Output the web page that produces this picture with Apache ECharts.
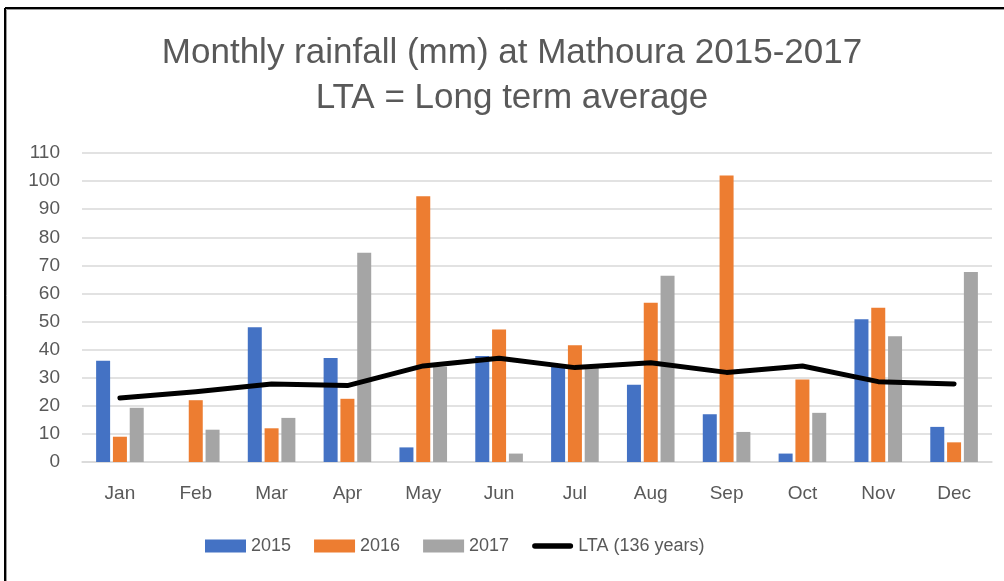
<!DOCTYPE html>
<html>
<head>
<meta charset="utf-8">
<script src="https://cdn.jsdelivr.net/npm/echarts@6/dist/echarts.min.js"></script>
<style>
html,body{margin:0;padding:0;background:#fff;}
#chart{width:1004px;height:581px;}
</style>
</head>
<body>
<div id="chart"></div>
<script>
const months = ['Jan','Feb','Mar','Apr','May','Jun','Jul','Aug','Sep','Oct','Nov','Dec'];
const rain2015 = [36, 0, 48, 37, 5.2, 37.7, 34, 27.5, 17, 3, 50.8, 12.5];
const rain2016 = [9, 22, 12, 22.5, 94.6, 47.2, 41.6, 56.7, 102, 29.4, 54.9, 7];
const rain2017 = [19.3, 11.5, 15.7, 74.5, 33.9, 3, 34, 66.3, 10.7, 17.5, 44.8, 67.6];
const lta = [22.8, 25, 27.8, 27.2, 34.2, 36.9, 33.6, 35.3, 31.9, 34.2, 28.6, 27.8];
const yTicks = [0, 110, 10];
const seriesNames = ['2015', '2016', '2017', 'LTA (136 years)'];
const titleLines = ['Monthly rainfall (mm) at Mathoura 2015-2017', 'LTA = Long term average'];

const FONT = 'Liberation Sans';
const TXT = '#595959';
const chart = echarts.init(document.getElementById('chart'), null, {renderer: 'canvas'});

const barCommon = {type: 'bar', barWidth: 14, barGap: '20%'};
chart.setOption({
  animation: false,
  backgroundColor: '#ffffff',
  legend: {
    left: 205,
    top: 537,
    padding: 0,
    itemWidth: 41,
    itemHeight: 13,
    itemGap: 23,
    textStyle: {fontFamily: FONT, fontSize: 18, color: TXT},
    data: [
      {name: seriesNames[0], icon: 'rect'},
      {name: seriesNames[1], icon: 'rect'},
      {name: seriesNames[2], icon: 'rect'},
      {name: seriesNames[3], icon: 'path://M3,0 L41,0 A3,3 0 0 1 41,6 L3,6 A3,3 0 0 1 3,0 Z', itemStyle: {color: '#000'}}
    ]
  },
  grid: {left: 82, right: 12, top: 153, bottom: 119, containLabel: false},
  xAxis: {
    type: 'category',
    data: months,
    axisLine: {lineStyle: {color: '#D9D9D9', width: 1.5}},
    axisTick: {show: false},
    axisLabel: {fontFamily: FONT, fontSize: 19, color: TXT, margin: 22}
  },
  yAxis: {
    type: 'value',
    min: yTicks[0],
    max: yTicks[1],
    interval: yTicks[2],
    axisLine: {show: false},
    axisTick: {show: false},
    splitLine: {lineStyle: {color: '#D9D9D9', width: 1.5}},
    axisLabel: {fontFamily: FONT, fontSize: 19, color: TXT, margin: 22}
  },
  series: [
    Object.assign({name: seriesNames[0], data: rain2015, itemStyle: {color: '#4472C4'}}, barCommon),
    Object.assign({name: seriesNames[1], data: rain2016, itemStyle: {color: '#ED7D31'}}, barCommon),
    Object.assign({name: seriesNames[2], data: rain2017, itemStyle: {color: '#A5A5A5'}}, barCommon),
    {
      name: seriesNames[3], type: 'line', data: lta, symbol: 'none', smooth: false,
      itemStyle: {color: '#000'},
      lineStyle: {color: '#000', width: 5, cap: 'round', join: 'round'},
      z: 5
    }
  ],
  graphic: [
    {type: 'text', x: 512, y: 53, style: {text: titleLines[0], font: '35px "Liberation Sans"', fill: TXT, textAlign: 'center', textVerticalAlign: 'middle'}},
    {type: 'text', x: 512, y: 98, style: {text: titleLines[1], font: '35px "Liberation Sans"', fill: TXT, textAlign: 'center', textVerticalAlign: 'middle'}},
    {type: 'line', shape: {x1: 5, y1: 8, x2: 1004, y2: 8}, style: {stroke: '#000', lineWidth: 2}},
    {type: 'line', shape: {x1: 5, y1: 8, x2: 5, y2: 581}, style: {stroke: '#000', lineWidth: 2}},
    {type: 'line', shape: {x1: 6.5, y1: 9.5, x2: 1004, y2: 9.5}, style: {stroke: '#9a9a9a', lineWidth: 1}},
    {type: 'line', shape: {x1: 6.5, y1: 9.5, x2: 6.5, y2: 581}, style: {stroke: '#9a9a9a', lineWidth: 1}}
  ]
});
</script>
</body>
</html>
